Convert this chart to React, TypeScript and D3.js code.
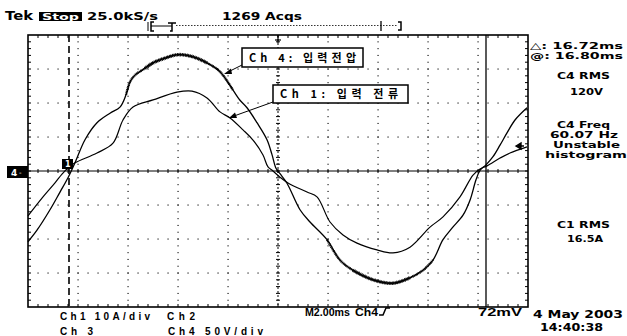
import React from "react";
import * as d3 from "d3";

// Oscilloscope traces (time in ms from left edge of the screen, 2 ms/div)
const voltT = [0, 0.36, 0.88, 1.28, 1.6, 1.88, 2.28, 2.76, 3.28, 3.68, 3.92, 4.08, 4.28, 4.68, 5.0, 5.48, 6.0, 6.6, 7.16, 7.68, 8.2, 8.48, 8.76, 9.16, 9.56, 9.76, 9.92, 10.08, 10.36, 10.88, 11.28, 11.96, 12.48, 13.0, 13.8, 14.6, 15.28, 15.8, 16.2, 16.6, 16.96, 17.4, 17.68, 17.92, 18.08, 18.32, 18.6, 18.88, 19.16, 19.48, 19.96];
const voltV = [-104, -87, -57, -31, -10, 12, 46, 71, 85, 94, 112, 131, 141, 151, 159, 166, 171, 168, 159, 146, 119, 104, 93, 71, 46, 24, 4, -4, -18, -57, -75, -101, -131, -146, -160, -165, -157, -146, -131, -101, -84, -65, -43, -13, 1, 9, 21, 38, 56, 75, 93];
const currT = [0, 0.6, 1.08, 1.36, 1.6, 1.88, 2.76, 3.4, 3.8, 4.2, 5.0, 5.96, 6.56, 7.16, 7.68, 8.08, 8.6, 9.0, 9.4, 9.6, 9.8, 10.08, 10.4, 11.16, 11.56, 12.08, 12.6, 13.16, 13.96, 14.6, 15.28, 16.08, 16.6, 17.28, 17.8, 18.08, 18.36, 18.88, 19.28, 19.96];
const currI = [-13.2, -7.6, -3.5, -0.9, 0.9, 2.4, 5.3, 8.2, 15.0, 18.8, 20.9, 23.2, 23.5, 21.5, 17.4, 15.6, 12.1, 9.1, 4.7, 1.2, 0, -1.8, -3.5, -6.2, -7.6, -15.0, -18.8, -21.2, -23.2, -24.1, -22.4, -16.5, -13.5, -7.6, -1.2, 0.6, 1.5, 3.8, 5.3, 7.1];
// time spans where the voltage trace is visibly noisy (thick)
const noisyStart = [3.9, 11.7];
const noisyEnd = [8.3, 16.4];
const heavyStart = [4.6, 12.9];
const heavyEnd = [7.3, 15.6];

const cursorTimes = [1.64, 18.32];
const topTexts = ["Tek", "Stop", "25.0kS/s", "1269 Acqs"];
const rightTexts = ["C4 RMS", "120V", "C4 Freq", "60.07 Hz", "Unstable", "histogram", "C1 RMS", "16.5A"];
const cursorTexts = ["\u25B3: 16.72ms", "@: 16.80ms"];
const bottomTexts = ["Ch1 10A/div", "Ch2", "Ch 3", "Ch4 50V/div", "M2.00ms", "Ch4", "72mV"];
const dateTexts = ["4 May 2003", "14:40:38"];
const labelTexts = ["Ch 4: 입력전압", "Ch 1: 입력 전류"];

const W = 627, H = 336;
const L = 28, R = 528, T = 35, B = 307;
const FONT = "'DejaVu Sans', Verdana, sans-serif";
const NFONT = "'Liberation Sans', Arial, sans-serif";
const KFONT = "'Noto Sans CJK KR', 'DejaVu Sans', sans-serif";

export default function App() {
  const x = d3.scaleLinear().domain([0, 20]).range([L, R]);
  const yV = d3.scaleLinear().domain([-200, 200]).range([B, T]);
  const yI = d3.scaleLinear().domain([-40, 40]).range([B, T]);

  const vPts: [number, number][] = voltT.map((t, i) => [t, voltV[i]]);
  const iPts: [number, number][] = currT.map((t, i) => [t, currI[i]]);
  const lineV = d3.line<[number, number]>().x(d => x(d[0])).y(d => yV(d[1])).curve(d3.curveCatmullRom.alpha(0.5));
  const lineI = d3.line<[number, number]>().x(d => x(d[0])).y(d => yI(d[1])).curve(d3.curveCatmullRom.alpha(0.5));
  const subset = (a: number, b: number) => vPts.filter(p => p[0] >= a && p[0] <= b);

  const xDiv = (R - L) / 10, yDiv = (B - T) / 8;
  const cx = L + 5 * xDiv, cy = T + 4 * yDiv;

  const dots: any[] = [];
  for (let i = 1; i < 10; i++) {
    if (i === 5) continue;
    const gx = L + i * xDiv;
    for (let k = 1; k < 40; k++) {
      const gy = T + (k * yDiv) / 5;
      dots.push(<rect key={`v${i}-${k}`} x={gx - 0.5} y={gy - 0.5} width={1.1} height={1.1} fill="#000" />);
    }
  }
  for (let j = 1; j < 8; j++) {
    if (j === 4) continue;
    const gy = T + j * yDiv;
    for (let k = 1; k < 50; k++) {
      const gx = L + (k * xDiv) / 5;
      dots.push(<rect key={`h${j}-${k}`} x={gx - 0.5} y={gy - 0.5} width={1.1} height={1.1} fill="#000" />);
    }
  }
  const ticks: any[] = [];
  for (let k = 1; k < 50; k++) {
    const gx = L + (k * xDiv) / 5;
    ticks.push(<line key={`tt${k}`} x1={gx} x2={gx} y1={T} y2={T + 3} stroke="#000" strokeWidth={1} />);
    ticks.push(<line key={`tb${k}`} x1={gx} x2={gx} y1={B} y2={B - 3} stroke="#000" strokeWidth={1} />);
    ticks.push(<line key={`tc${k}`} x1={gx} x2={gx} y1={cy - 2} y2={cy + 2} stroke="#000" strokeWidth={1} />);
  }
  for (let k = 1; k < 40; k++) {
    const gy = T + (k * yDiv) / 5;
    ticks.push(<line key={`tl${k}`} x1={L} x2={L + 3} y1={gy} y2={gy} stroke="#000" strokeWidth={1} />);
    ticks.push(<line key={`tr${k}`} x1={R} x2={R - 3} y1={gy} y2={gy} stroke="#000" strokeWidth={1} />);
    ticks.push(<line key={`tv${k}`} x1={cx - 2} x2={cx + 2} y1={gy} y2={gy} stroke="#000" strokeWidth={1} />);
  }

  const txt = (s: string, px: number, py: number, len: number, size = 10, extra: any = {}, fam = FONT, adj = "spacingAndGlyphs") => (
    <text x={px} y={py} textLength={len} lengthAdjust={adj} fontFamily={fam} fontWeight="bold" fontSize={size} fill="#000" {...extra}>{s}</text>
  );

  return (
    <svg width={W} height={H} viewBox={`0 0 ${W} ${H}`} style={{ position: "absolute", left: 0, top: 0, background: "#fff" }}>
      <rect x={0} y={0} width={W} height={H} fill="#fff" />
      {/* header */}
      {txt(topTexts[0], 5, 20, 28, 11.5)}
      <rect x={39} y={12} width={43} height={9} fill="#000" />
      {txt(topTexts[1], 42, 20, 37, 9, { fill: "#fff" })}
      {txt(topTexts[2], 87, 20, 71, 11)}
      {txt(topTexts[3], 222, 20, 80, 11)}
      {/* record bar */}
      <line x1={148} x2={148} y1={22} y2={31} stroke="#000" strokeWidth={1} />
      <path d="M154,22 L151,22 L151,31 L154,31" fill="none" stroke="#000" strokeWidth={1.5} />
      <line x1={151} x2={172} y1={26} y2={26} stroke="#000" strokeWidth={1} />
      <path d="M168,23 L176,23 M172,23 L172,31 L170,31" fill="none" stroke="#000" strokeWidth={1.5} />
      <line x1={176} x2={397} y1={25.5} y2={25.5} stroke="#000" strokeWidth={0.8} strokeDasharray="1.5,1.5" />
      <line x1={381} x2={381} y1={21} y2={31} stroke="#000" strokeWidth={1.3} />
      <path d="M398,22 L401,22 L401,30 L398,30" fill="none" stroke="#000" strokeWidth={1.5} />

      {/* graticule */}
      {dots}
      <line x1={L} x2={R} y1={cy} y2={cy} stroke="#000" strokeWidth={1} />
      <line x1={cx} x2={cx} y1={T} y2={B} stroke="#000" strokeWidth={1} strokeDasharray="2,2" />
      {ticks}
      <line x1={cx} x2={cx} y1={T} y2={T + 8} stroke="#000" strokeWidth={1.2} />
      <line x1={cx - 3} x2={cx + 3} y1={T + 5} y2={T + 5} stroke="#000" strokeWidth={1.2} />
      <rect x={L} y={T} width={R - L} height={B - T} fill="none" stroke="#000" strokeWidth={1.6} />

      {/* cursors */}
      <line x1={x(cursorTimes[0])} x2={x(cursorTimes[0])} y1={T} y2={B} stroke="#000" strokeWidth={1.6} strokeDasharray="7,4" />
      <line x1={x(cursorTimes[1])} x2={x(cursorTimes[1])} y1={T} y2={B} stroke="#000" strokeWidth={1.3} />

      {/* traces */}
      <path d={lineI(iPts) || ""} fill="none" stroke="#000" strokeWidth={1.2} />
      <path d={lineV(vPts) || ""} fill="none" stroke="#000" strokeWidth={1.3} />
      {noisyStart.map((s, i) => (
        <path key={`n${i}`} d={lineV(subset(s, noisyEnd[i])) || ""} fill="none" stroke="#000" strokeWidth={2.4} strokeDasharray="1,0.6" />
      ))}
      {heavyStart.map((s, i) => (
        <path key={`hv${i}`} d={lineV(subset(s, heavyEnd[i])) || ""} fill="none" stroke="#000" strokeWidth={3.6} strokeDasharray="0.8,0.8" />
      ))}

      {/* markers */}
      <rect x={7} y={166} width={21} height={12} fill="#000" />
      <text x={11} y={176} fontFamily={FONT} fontWeight="bold" fontSize={9} fill="#fff">4</text>
      <text x={19} y={175} fontFamily={FONT} fontSize={7} fill="#fff">-</text>
      <rect x={62} y={159} width={11} height={10} fill="#000" />
      <text x={65} y={167} fontFamily={FONT} fontWeight="bold" fontSize={8} fill="#fff">1</text>
      <path d="M516,146 L521,143 L521,149 Z M520,146 L524,146" fill="#000" stroke="#000" strokeWidth={1.4} />

      {/* label boxes */}
      <line x1={242} y1={65} x2={228} y2={72} stroke="#000" strokeWidth={1} />
      <path d="M224,74 L231,68.5 L232,74 Z" fill="#000" />
      <rect x={242} y={48} width={121} height={19} fill="#fff" stroke="#000" strokeWidth={1.5} />
      <text x={249} y={62} textLength={107} lengthAdjust="spacing" fontFamily={KFONT} fontWeight="bold" fontSize={11} fill="#000">{labelTexts[0]}</text>
      <line x1={273} y1={102} x2={234} y2={116} stroke="#000" strokeWidth={1} />
      <path d="M229,118 L235,112.5 L237,118 Z" fill="#000" />
      <rect x={273} y={85} width={135} height={18} fill="#fff" stroke="#000" strokeWidth={1.5} />
      <text x={280} y={98} textLength={118} lengthAdjust="spacing" fontFamily={KFONT} fontWeight="bold" fontSize={11} fill="#000">{labelTexts[1]}</text>

      {/* right readouts */}
      {txt(cursorTexts[0], 530, 49, 93, 9)}
      {txt(cursorTexts[1], 530, 58.5, 93, 9)}
      {txt(rightTexts[0], 557, 79, 53, 9.5)}
      {txt(rightTexts[1], 570, 95, 33, 9.5)}
      {txt(rightTexts[2], 557, 128, 53, 9.5)}
      {txt(rightTexts[3], 550, 138, 68, 9.5)}
      {txt(rightTexts[4], 553, 148, 67, 9.5)}
      {txt(rightTexts[5], 545, 158, 82, 9.5)}
      {txt(rightTexts[6], 557, 228, 53, 9.5)}
      {txt(rightTexts[7], 567, 242, 36, 9.5)}

      {/* bottom readouts */}
      {txt(bottomTexts[0], 60, 320, 90, 10, {}, NFONT, "spacing")}
      {txt(bottomTexts[1], 167, 320, 28, 10, {}, NFONT, "spacing")}
      {txt(bottomTexts[2], 60, 335, 33, 10, {}, NFONT, "spacing")}
      {txt(bottomTexts[3], 168, 335, 95, 10, {}, NFONT, "spacing")}
      {txt(bottomTexts[4], 305, 316, 45, 11, {}, NFONT)}
      {txt(bottomTexts[5], 355, 316, 23, 11, {}, NFONT)}
      <path d="M379,315 L383,315 L386,308 L390,308" fill="none" stroke="#000" strokeWidth={1.5} />
      {txt(bottomTexts[6], 478, 316, 44, 11, {}, NFONT)}
      {txt(dateTexts[0], 533, 318, 90, 10.5)}
      {txt(dateTexts[1], 540, 331, 63, 10.5)}
    </svg>
  );
}
